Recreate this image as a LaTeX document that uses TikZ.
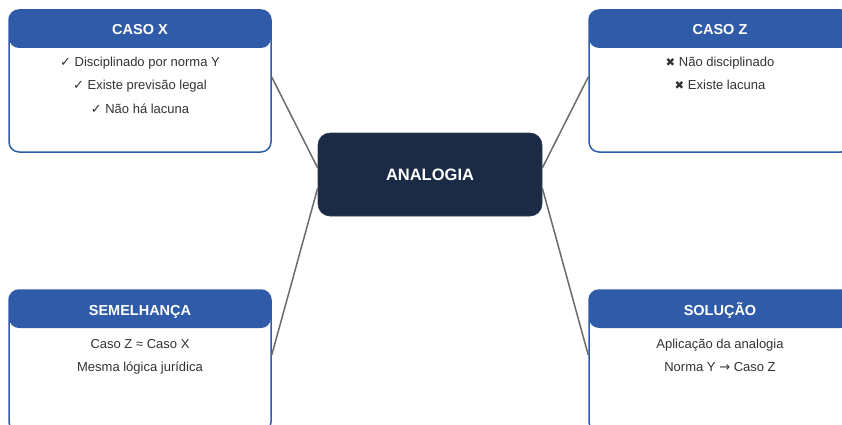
\documentclass[tikz,border=0pt]{standalone}
\usepackage{fontspec}
\setmainfont{Liberation Sans}
\newfontfamily\symfont{DejaVu Sans}
\definecolor{hdrblue}{HTML}{2F5BA8}
\definecolor{navy}{HTML}{1B2A45}
\definecolor{linegray}{HTML}{6B6B6B}
\definecolor{bodytext}{HTML}{333333}
\newcommand{\chk}{{\symfont\fontsize{13}{13}\selectfont ✓}}
\newcommand{\crs}{{\symfont\fontsize{11.5}{11.5}\selectfont ✖}}
\newcommand{\rarr}{{\symfont\fontsize{13}{13}\selectfont →}}
\tikzset{
  panel/.style={rectangle, rounded corners=10pt, draw=hdrblue, line width=1.5pt,
    fill=white, minimum width=262pt, minimum height=142pt, inner sep=0pt,
    path picture={\fill[hdrblue] (path picture bounding box.north west) rectangle
      ([yshift=-38pt]path picture bounding box.north east);}},
  paneltitle/.style={anchor=base, text=white, font=\fontsize{14.5}{17}\selectfont\bfseries, inner sep=0pt},
  panelbody/.style={anchor=base, text=bodytext, align=center, inner sep=0pt,
    font=\fontsize{13}{23.5}\selectfont},
  centerbox/.style={rectangle, rounded corners=12pt, fill=navy, draw=navy!80!gray, line width=0.6pt,
    minimum width=224pt, minimum height=83pt, text=white, inner sep=0pt,
    font=\fontsize{16.5}{20}\selectfont\bfseries},
  connector/.style={draw=linegray, line width=1.5pt}
}
\begin{document}
\begin{tikzpicture}[x=1pt,y=-1pt]
\useasboundingbox (0,0) rectangle (842,425);
\clip (0,0) rectangle (842,425);
% panels
\node[panel] (casox) at (140,81) {};
\node[panel] (casoz) at (720,81) {};
\node[panel] (semel) at (140,361) {};
\node[panel] (solu) at (720,361) {};
% center
\node[centerbox] (ana) at (430,174.5) {ANALOGIA};
% titles
\node[paneltitle] (tx) at (140,34.2) {CASO X};
\node[paneltitle] (tz) at (720,34.2) {CASO Z};
\node[paneltitle] (ts) at (140,315.2) {SEMELHANÇA};
\node[paneltitle] (tl) at (720,315.2) {SOLUÇÃO};
% bodies (base anchor = baseline of last line)
\node[panelbody] (bx) at (140,113.5) {\chk\ Disciplinado por norma Y\\ \chk\ Existe previsão legal\\ \chk\ Não há lacuna};
\node[panelbody] (bz) at (720,90) {\crs\ Não disciplinado\\ \crs\ Existe lacuna};
\node[panelbody] (bs) at (140,371.5) {Caso Z ≈ Caso X\\ Mesma lógica jurídica};
\node[panelbody] (bl) at (720,371.5) {Aplicação da analogia\\ Norma Y \rarr\ Caso Z};
% connectors
\draw[connector] ([yshift=4pt]casox.east) -- ([yshift=6.5pt]ana.west);
\draw[connector] ([yshift=4pt]casoz.west) -- ([yshift=6.5pt]ana.east);
\draw[connector] ([yshift=6pt]semel.east) -- ([yshift=-13.5pt]ana.west);
\draw[connector] ([yshift=6pt]solu.west) -- ([yshift=-13.5pt]ana.east);
\end{tikzpicture}
\end{document}
